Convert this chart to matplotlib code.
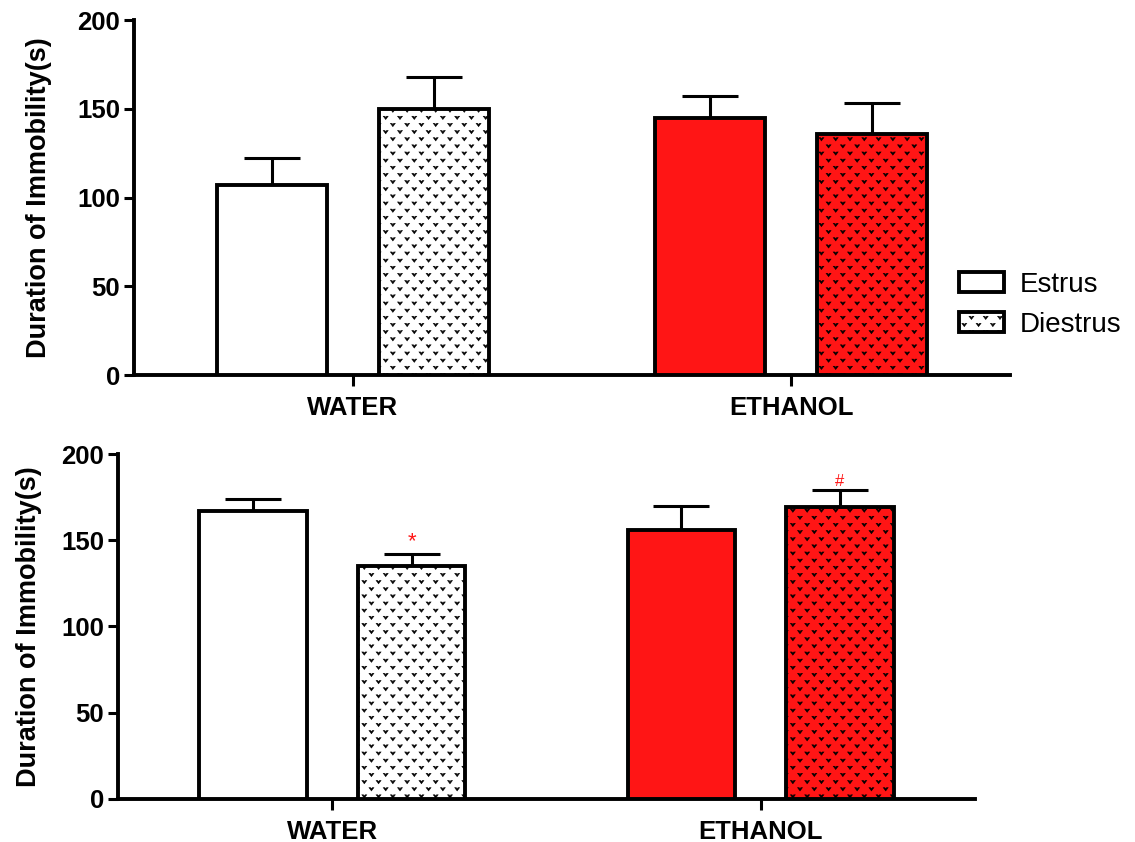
import warnings
import numpy as np
import matplotlib
matplotlib.use("Agg")
import matplotlib.pyplot as plt
import matplotlib.hatch as mhatch
from matplotlib.path import Path
from matplotlib.patches import Patch

warnings.filterwarnings("ignore")

# ---------------- data ----------------
groups = ["WATER", "ETHANOL"]
phases = ["Estrus", "Diestrus"]
top_estrus = [107, 145]
top_estrus_sem = [15, 12]
top_diestrus = [150, 136]
top_diestrus_sem = [18, 17]
bot_estrus = [167, 156]
bot_estrus_sem = [7, 14]
bot_diestrus = [135, 169]
bot_diestrus_sem = [7, 10]
bot_marks = ["*", "#"]          # significance marks over diestrus bars (bottom)
yticks = [0, 50, 100, 150, 200]
ylabel = "Duration of Immobility(s)"

# ---------------- custom chevron hatch ----------------
class ChevronHatch(mhatch.HatchPatternBase):
    def __init__(self, hatch, density):
        on = "v" in hatch
        self.ncols = 7 if on else 0
        self.nrows = 14 if on else 0
        self.shape = np.array([[-1.0, 0.75], [0.0, -0.75], [1.0, 0.75],
                               [0.35, 0.75], [0.0, 0.15], [-0.35, 0.75],
                               [0.0, 0.0]])
        self.scodes = np.array([Path.MOVETO] + [Path.LINETO] * 5 + [Path.CLOSEPOLY],
                               dtype=Path.code_type)
        if on:
            n_shapes = (self.nrows // 2) * self.ncols + (self.nrows // 2) * (self.ncols + 1)
            self.num_vertices = n_shapes * len(self.shape)
        else:
            self.num_vertices = 0

    def set_vertices_and_codes(self, vertices, codes):
        sx = 0.17 / self.ncols
        sy = 0.30 / self.nrows
        shp = self.shape * [sx, sy]
        vparts, cparts = [], []
        for r in range(self.nrows):
            ypos = (r + 0.5) / self.nrows
            if r % 2 == 0:
                xs = (np.arange(self.ncols) + 0.5) / self.ncols
            else:
                xs = np.arange(self.ncols + 1) / self.ncols
            for xp in xs:
                vparts.append(shp + [xp, ypos])
                cparts.append(self.scodes)
        np.concatenate(vparts, out=vertices)
        np.concatenate(cparts, out=codes)


mhatch._hatch_types.append(ChevronHatch)

plt.rcParams["font.family"] = ["Liberation Sans", "DejaVu Sans"]
plt.rcParams["hatch.linewidth"] = 0.4
plt.rcParams["hatch.color"] = "#2a2a2a"

RED = "#FF1515"
LW = 2.8
FS = 19

fig = plt.figure(figsize=(11.35, 8.42), dpi=100)
ax1 = fig.add_axes([0.118, 0.5546, 0.772, 0.4216])
ax2 = fig.add_axes([0.104, 0.0511, 0.755, 0.4097])

width = 0.25
off = 0.185
xg = np.arange(len(groups))


def draw(ax, est, est_sem, die, die_sem, marks=None, labx=-0.11):
    est_colors = ["white", RED]
    for i in range(len(groups)):
        ax.bar(xg[i] - off, est[i], width, color=est_colors[i], edgecolor="black",
               linewidth=LW, zorder=3)
        ax.bar(xg[i] + off, die[i], width, color=est_colors[i], edgecolor="black",
               linewidth=LW, hatch="v", zorder=3)
    ax.errorbar(xg - off, est, yerr=[np.zeros(len(est)), est_sem], fmt="none",
                ecolor="black", elinewidth=2.2, capsize=20, capthick=2.2, zorder=2)
    ax.errorbar(xg + off, die, yerr=[np.zeros(len(die)), die_sem], fmt="none",
                ecolor="black", elinewidth=2.2, capsize=20, capthick=2.2, zorder=2)
    if marks:
        sizes = [16, 12]
        for i, m in enumerate(marks):
            ax.annotate(m, (xg[i] + off, die[i] + die_sem[i]), xytext=(0, 1),
                        textcoords="offset points", ha="center", va="bottom",
                        color=RED, fontsize=sizes[i])
    ax.set_xlim(-0.5, 1.5)
    ax.set_ylim(0, 200)
    ax.set_yticks(yticks)
    ax.set_yticklabels([str(t) for t in yticks], fontsize=FS - 0.5, fontweight="bold")
    ax.set_xticks(xg)
    ax.set_xticklabels(groups, fontsize=FS - 0.5, fontweight="bold")
    for s in ["top", "right"]:
        ax.spines[s].set_visible(False)
    for s in ["left", "bottom"]:
        ax.spines[s].set_linewidth(LW)
    ax.tick_params(axis="y", length=7, width=2.2, pad=3)
    ax.tick_params(axis="x", length=8, width=2.2, pad=7)
    ax.set_ylabel(ylabel, fontsize=FS + 0.5, fontweight="bold")
    ax.yaxis.set_label_coords(labx, 0.5)


draw(ax1, top_estrus, top_estrus_sem, top_diestrus, top_diestrus_sem, labx=-0.093)
draw(ax2, bot_estrus, bot_estrus_sem, bot_diestrus, bot_diestrus_sem, marks=bot_marks,
     labx=-0.089)

handles = [Patch(facecolor="white", edgecolor="black", linewidth=LW),
           Patch(facecolor="white", edgecolor="black", linewidth=LW, hatch="v")]
fig.legend(handles, phases, loc="upper left", bbox_to_anchor=(959 / 1135, 1 - 272 / 842),
           frameon=False, fontsize=20, handlelength=1.62, handleheight=0.72,
           handletextpad=0.55, labelspacing=0.5, borderpad=0, borderaxespad=0)

fig.savefig("out.png", dpi=100)
